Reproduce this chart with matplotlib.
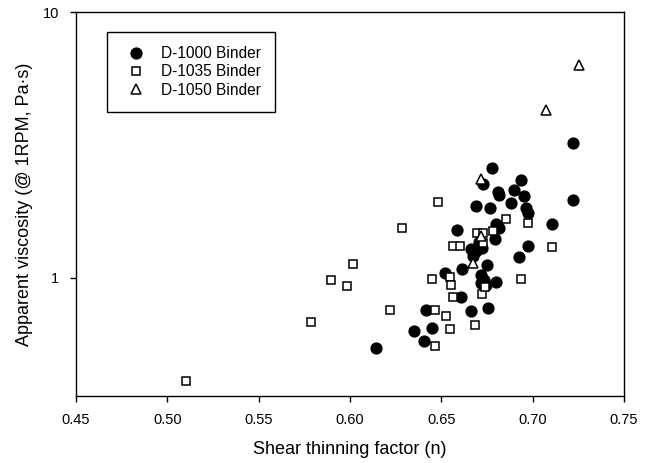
import numpy as np
import matplotlib.pyplot as plt
from matplotlib.ticker import FixedLocator, FixedFormatter, NullLocator

plt.rcParams['font.family'] = ['Liberation Sans', 'DejaVu Sans']

# D-1000 binder (filled circles)
n_1000 = [0.722, 0.678, 0.6727, 0.6938, 0.681, 0.6818, 0.690, 0.695, 0.722, 0.669,
          0.6764, 0.688, 0.6962, 0.6977, 0.7104, 0.6585, 0.680, 0.6815, 0.6795, 0.6705,
          0.6665, 0.669, 0.672, 0.6675, 0.6925, 0.6975, 0.6749, 0.6612, 0.6521, 0.6718,
          0.6735, 0.6718, 0.6745, 0.680, 0.6608, 0.6663, 0.6755, 0.6417, 0.6448, 0.6351,
          0.6406, 0.6143]
v_1000 = [3.23, 2.60, 2.25, 2.33, 2.10, 2.06, 2.15, 2.03, 1.96, 1.86,
          1.84, 1.92, 1.84, 1.76, 1.60, 1.52, 1.60, 1.54, 1.40, 1.37,
          1.28, 1.26, 1.30, 1.21, 1.20, 1.32, 1.12, 1.08, 1.04, 1.03,
          0.98, 0.96, 0.94, 0.97, 0.85, 0.75, 0.77, 0.76, 0.65, 0.633,
          0.582, 0.544]

# D-1035 binder (open squares)
n_1035 = [0.51, 0.5787, 0.5897, 0.5982, 0.6018, 0.622, 0.6284, 0.6481, 0.6855, 0.6974,
          0.6694, 0.673, 0.6782, 0.6566, 0.660, 0.673, 0.7105, 0.6451, 0.6548, 0.6552,
          0.6566, 0.6722, 0.674, 0.6937, 0.6466, 0.6525, 0.6548, 0.6685, 0.6466]
v_1035 = [0.41, 0.686, 0.985, 0.935, 1.13, 0.76, 1.54, 1.93, 1.66, 1.61,
          1.48, 1.48, 1.50, 1.32, 1.32, 1.35, 1.31, 0.99, 1.01, 0.94,
          0.845, 0.87, 0.925, 0.99, 0.755, 0.72, 0.642, 0.667, 0.557]

# D-1050 binder (open triangles)
n_1050 = [0.7255, 0.7072, 0.6718, 0.6718, 0.6676]
v_1050 = [6.33, 4.29, 2.36, 1.44, 1.14]

fig = plt.figure(figsize=(6.53, 4.63), dpi=100)
ax = fig.add_axes([0.1164, 0.1447, 0.8392, 0.8293])

ax.plot(n_1000, v_1000, 'o', color='black', markersize=7.8, label='D-1000 Binder')
ax.plot(n_1035, v_1035, 's', markerfacecolor='white', markeredgecolor='black',
        markeredgewidth=1.1, markersize=6, label='D-1035 Binder')
ax.plot(n_1050, v_1050, '^', markerfacecolor='white', markeredgecolor='black',
        markeredgewidth=1.1, markersize=6.5, label='D-1050 Binder')

ax.set_yscale('log')
ax.set_ylim(0.36, 10)
ax.set_xlim(0.45, 0.75)
ax.yaxis.set_major_locator(FixedLocator([1, 10]))
ax.yaxis.set_major_formatter(FixedFormatter(['1', '10']))
ax.yaxis.set_minor_locator(NullLocator())
ax.set_xticks([0.45, 0.50, 0.55, 0.60, 0.65, 0.70, 0.75])
ax.set_xticklabels(['0.45', '0.50', '0.55', '0.60', '0.65', '0.70', '0.75'])
ax.tick_params(direction='out', length=4, width=1, labelsize=10.5, pad=8)
for s in ax.spines.values():
    s.set_linewidth(1.0)

ax.set_xlabel('Shear thinning factor (n)', fontsize=13, labelpad=10)
ax.set_ylabel('Apparent viscosity (@ 1RPM, Pa\u00b7s)', fontsize=13, labelpad=7)

leg = ax.legend(loc='upper left', bbox_to_anchor=(0.056, 0.948), borderaxespad=0,
                fancybox=False, edgecolor='black', fontsize=11.2, handletextpad=0.6,
                handlelength=2.0, borderpad=0.9, labelspacing=0.22, framealpha=1)
leg.get_frame().set_linewidth(1.0)

fig.savefig('out.png', dpi=100)
